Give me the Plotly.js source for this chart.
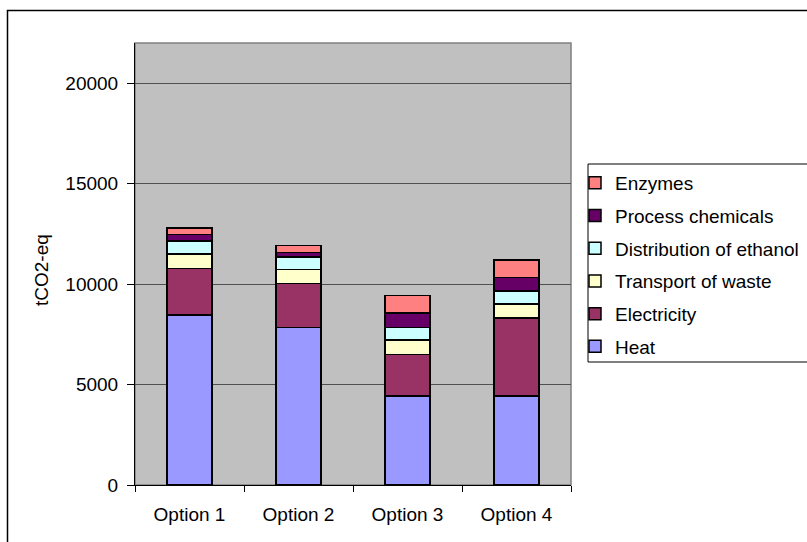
<!DOCTYPE html>
<html>
<head>
<meta charset="utf-8">
<script src="https://cdn.plot.ly/plotly-3.0.1.min.js"></script>
<style>html,body{margin:0;padding:0;background:#fff;}#chart{width:807px;height:542px;}</style>
</head>
<body>
<div id="chart"></div>
<script>
var categories = ["Option 1", "Option 2", "Option 3", "Option 4"];
var seriesNames = ["Heat", "Electricity", "Transport of waste", "Distribution of ethanol", "Process chemicals", "Enzymes"];
var heat = [8460, 7850, 4430, 4430];
var electricity = [2320, 2180, 2070, 3890];
var transportOfWaste = [730, 700, 710, 700];
var distributionOfEthanol = [630, 630, 640, 630];
var processChemicals = [330, 220, 720, 680];
var enzymes = [330, 340, 850, 880];
var yTicks = [0, 5000, 10000, 15000, 20000];
var yTitle = "tCO2-eq";

var seriesValues = [heat, electricity, transportOfWaste, distributionOfEthanol, processChemicals, enzymes];
var colors = ["#9999FF", "#993366", "#FFFFCC", "#CCFFFF", "#660066", "#FF8080"];

var font = "Liberation Sans, Arial, sans-serif";
var FS = 19;
var traces = seriesNames.map(function (name, i) {
  return {
    type: "bar",
    name: name,
    x: categories,
    y: seriesValues[i],
    legendgroup: "g" + i,
    legendrank: 1000 - i * 10,
    marker: { color: colors[i], line: { color: "#000000", width: 1.5 } },
    hoverinfo: "x+y+name"
  };
});

// plot area: x 135..571, y 43..485
var L = 135, R = 571, T = 43, B = 485;
var pw = R - L, ph = B - T;
function px(x) { return (x - L) / pw; }
function py(y) { return (B - y) / ph; }

var layout = {
  width: 807,
  height: 542,
  margin: { l: L, r: 807 - R, t: T, b: 542 - B, autoexpand: false },
  paper_bgcolor: "#ffffff",
  plot_bgcolor: "#C0C0C0",
  barmode: "stack",
  bargap: 0.59,
  font: { family: font, size: FS, color: "#000000" },
  showlegend: true,
  legend: {
    x: px(575), xanchor: "left",
    y: py(164), yanchor: "top",
    traceorder: "grouped",
    tracegroupgap: 5,
    bgcolor: "rgba(0,0,0,0)",
    borderwidth: 0,
    font: { family: font, size: FS, color: "#000000" },
    itemwidth: 30
  },
  xaxis: {
    type: "category",
    showline: true,
    linecolor: "#000000",
    linewidth: 1,
    ticks: "outside",
    tickson: "boundaries",
    ticklen: 6,
    tickcolor: "#000000",
    ticklabelstandoff: 12,
    showgrid: false,
    tickfont: { family: font, size: FS, color: "#000000" }
  },
  yaxis: {
    range: [0, 22000],
    tickvals: yTicks,
    ticktext: yTicks.map(String),
    showline: true,
    linecolor: "#000000",
    linewidth: 1,
    ticks: "outside",
    ticklen: 7,
    tickcolor: "#000000",
    ticklabelstandoff: 5,
    showgrid: true,
    gridcolor: "#505050",
    gridwidth: 1,
    zeroline: false,
    tickfont: { family: font, size: FS, color: "#000000" }
  },
  annotations: [
    { text: yTitle, textangle: -90, xref: "paper", yref: "paper", x: px(41), y: py(270),
      xanchor: "center", yanchor: "middle", showarrow: false,
      font: { family: font, size: FS, color: "#000000" } }
  ],
  shapes: [
    { type: "rect", xref: "paper", yref: "paper", x0: 0, x1: 1, y0: 0, y1: 1,
      line: { color: "#808080", width: 1.5 }, layer: "below" },
    { type: "rect", xref: "paper", yref: "paper", x0: px(7.5), x1: px(830), y0: py(560), y1: py(10.5),
      line: { color: "#000000", width: 1.5 }, fillcolor: "rgba(0,0,0,0)", layer: "above" },
    { type: "rect", xref: "paper", yref: "paper", x0: px(588), x1: px(830), y0: py(362), y1: py(164),
      line: { color: "#000000", width: 1 }, fillcolor: "#ffffff", layer: "above" }
  ]
};

Plotly.newPlot("chart", traces, layout, { displayModeBar: false, staticPlot: true });
</script>
</body>
</html>
